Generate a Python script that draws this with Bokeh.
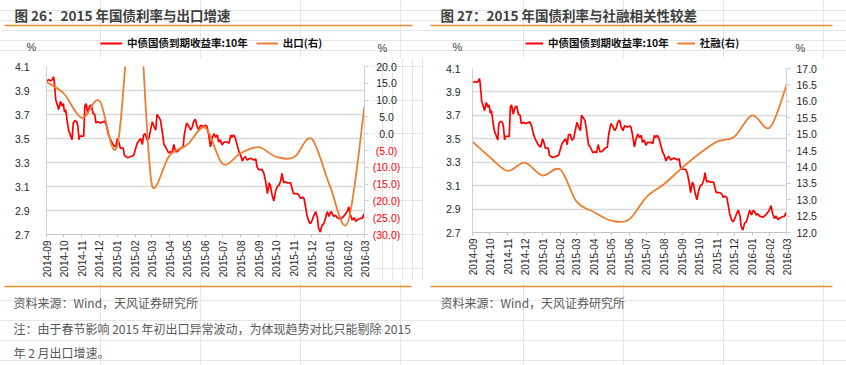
import math
import pandas as pd
from bokeh.plotting import figure
from bokeh.layouts import row, column
from bokeh.models import (Range1d, LinearAxis, FixedTicker, DatetimeTickFormatter,
                          NumeralTickFormatter, CustomJSTickFormatter,
                          ColumnDataSource, Legend, LegendItem)
from bokeh.embed import file_html
from bokeh.resources import INLINE
from bokeh.core.properties import value

# ---------------- data ----------------
month_labels = ["2014-09", "2014-10", "2014-11", "2014-12", "2015-01", "2015-02",
                "2015-03", "2015-04", "2015-05", "2015-06", "2015-07", "2015-08",
                "2015-09", "2015-10", "2015-11", "2015-12", "2016-01", "2016-02",
                "2016-03"]

# 中债国债到期收益率:10年 (%), days counted from 2014-09-01
yield_days = [0, 4, 7, 10, 12, 13, 15, 16, 18, 21, 24, 27, 29, 31, 33, 36, 38, 41, 44, 46,
              49, 52, 54, 56, 57, 61, 64, 66, 68, 71, 74, 77, 80, 83, 85, 88, 93, 98, 100, 103,
              106, 110, 115, 119, 122, 124, 127, 132, 134, 139, 145, 150, 156, 162, 165, 167, 170, 173, 176, 179,
              182, 185, 188, 190, 193, 196, 199, 202, 205, 208, 210, 213, 216, 219, 222, 225, 231, 235, 237, 241,
              245, 248, 251, 253, 256, 259, 262, 265, 270, 274, 276, 279, 282, 285, 288, 291, 294, 296, 299, 302,
              305, 311, 314, 317, 319, 322, 325, 328, 331, 334, 337, 339, 342, 345, 351, 357, 360, 362, 365, 368,
              371, 374, 377, 380, 383, 385, 388, 391, 394, 397, 400, 403, 405, 408, 411, 414, 420, 423, 425, 431,
              434, 437, 440, 443, 446, 448, 451, 454, 457, 460, 463, 466, 468, 471, 474, 477, 480, 483, 486, 489,
              491, 494, 497, 500, 506, 511, 517, 520, 523, 526, 529, 532, 534, 540, 543, 546, 547]
yield_vals = [3.98, 3.99, 3.98, 3.99, 4.015, 3.99, 3.88, 3.82, 3.79, 3.74, 3.81, 3.77, 3.79, 3.72, 3.74, 3.63, 3.57, 3.53, 3.49, 3.63,
              3.65, 3.64, 3.60, 3.49, 3.52, 3.52, 3.52, 3.77, 3.79, 3.71, 3.77, 3.78, 3.71, 3.70, 3.63, 3.64, 3.63, 3.64, 3.645, 3.61,
              3.54, 3.49, 3.445, 3.43, 3.50, 3.475, 3.42, 3.42, 3.36, 3.34, 3.35, 3.36, 3.46, 3.50, 3.45, 3.53, 3.54, 3.49, 3.50, 3.57,
              3.64, 3.60, 3.57, 3.70, 3.68, 3.655, 3.56, 3.45, 3.43, 3.40, 3.38, 3.39, 3.38, 3.45, 3.39, 3.39, 3.42, 3.43, 3.53, 3.63,
              3.60, 3.57, 3.60, 3.64, 3.66, 3.60, 3.57, 3.61, 3.60, 3.61, 3.60, 3.53, 3.43, 3.50, 3.54, 3.51, 3.53, 3.47, 3.49, 3.445,
              3.47, 3.47, 3.46, 3.53, 3.51, 3.53, 3.50, 3.445, 3.39, 3.36, 3.31, 3.335, 3.35, 3.32, 3.335, 3.32, 3.33, 3.265, 3.24, 3.24,
              3.24, 3.21, 3.14, 3.04, 3.13, 3.11, 3.03, 2.98, 3.06, 3.10, 3.11, 3.15, 3.21, 3.13, 3.14, 3.13, 3.13, 3.07, 3.04, 3.04,
              3.03, 3.00, 3.01, 3.00, 2.92, 2.86, 2.81, 2.79, 2.82, 2.86, 2.89, 2.84, 2.75, 2.72, 2.78, 2.79, 2.84, 2.89, 2.85, 2.89,
              2.88, 2.85, 2.86, 2.84, 2.83, 2.85, 2.89, 2.93, 2.86, 2.82, 2.84, 2.81, 2.82, 2.835, 2.835, 2.87, 2.84]

# 出口 (%, right axis of chart 26), one value per month in month_labels
export_vals = [15.4, 11.9, 4.7, 9.8, -3.5, 48.3, -15.0, -6.4, -3.3, 1.8, -9.0, -5.8,
               -4.0, -6.9, -7.0, -1.5, -15.3, -26.5, 8.3]
# 社融 (%, right axis of chart 27)
tsf_vals = [14.77, 14.30, 13.88, 14.13, 13.74, 13.92, 12.95, 12.62, 12.36, 12.40, 13.08, 13.48,
            13.97, 14.40, 14.77, 14.92, 15.57, 15.20, 16.49]

left_ticks = [2.7, 2.9, 3.1, 3.3, 3.5, 3.7, 3.9, 4.1]
export_ticks = [-30, -25, -20, -15, -10, -5, 0, 5, 10, 15, 20]
tsf_ticks = [12.0, 12.5, 13.0, 13.5, 14.0, 14.5, 15.0, 15.5, 16.0, 16.5, 17.0]

assert len(yield_days) == len(yield_vals)

# ---------------- helpers ----------------
START = pd.Timestamp("2014-09-01")
EPOCH = pd.Timestamp("1970-01-01")
DAY_MS = 86400000.0
NAN = float("nan")


def to_ms(ts):
    return (ts - EPOCH) / pd.Timedelta(milliseconds=1)


start_ms = to_ms(START)
month_ts = pd.to_datetime([m + "-01" for m in month_labels])
month_ms = [to_ms(t) for t in month_ts]
month_days = [(t - START).days for t in month_ts]
end_ms = month_ms[-1]
yield_x = [start_ms + d * DAY_MS for d in yield_days]

CJK = "Noto Sans CJK SC"
LAT = "Liberation Sans"
RED = "#FF0000"
ORANGE = "#ED7D31"
RULE = "#EC8A33"
TICKC = "#262626"


def smooth_segments(days, vals, px_day, px_unit):
    """Excel-style smoothed line: cubic Bezier control points from the data."""
    P = [(d * px_day, v * px_unit) for d, v in zip(days, vals)]
    n = len(P)
    out = {k: [] for k in ("x0", "y0", "x1", "y1", "cx0", "cy0", "cx1", "cy1")}

    def dist(a, b):
        return math.hypot(a[0] - b[0], a[1] - b[1])

    for i in range(n - 1):
        p0 = P[i - 1] if i > 0 else P[i]
        p1, p2 = P[i], P[i + 1]
        p3 = P[i + 2] if i + 2 < n else P[i + 1]
        d12, d02, d13 = dist(p1, p2), dist(p0, p2), dist(p1, p3)
        f = 1 / 6 if d02 / 6 < d12 / 2 else d12 / (2 * d02)
        g = 1 / 6 if d13 / 6 < d12 / 2 else d12 / (2 * d13)
        c1 = (p1[0] + (p2[0] - p0[0]) * f, p1[1] + (p2[1] - p0[1]) * f)
        c2 = (p2[0] - (p3[0] - p1[0]) * g, p2[1] - (p3[1] - p1[1]) * g)
        for key, pt in (("0", p1), ("1", p2)):
            out["x" + key].append(start_ms + pt[0] / px_day * DAY_MS)
            out["y" + key].append(pt[1] / px_unit)
        out["cx0"].append(start_ms + c1[0] / px_day * DAY_MS)
        out["cy0"].append(c1[1] / px_unit)
        out["cx1"].append(start_ms + c2[0] / px_day * DAY_MS)
        out["cy1"].append(c2[1] / px_unit)
    return out


def plain_fig(w, h, xr, yr):
    return figure(width=w, height=h, x_range=xr, y_range=yr,
                  x_axis_location=None, y_axis_location=None, title=None,
                  min_border=0, min_border_left=0, min_border_right=0,
                  min_border_top=0, min_border_bottom=0,
                  output_backend="svg", toolbar_location=None,
                  background_fill_color="white", border_fill_color="white",
                  outline_line_color=None)


def canvas_fig(w, h):
    """A plain figure whose frame is the whole canvas (pixel-like coordinates, y down)."""
    return plain_fig(w, h, Range1d(0, w), Range1d(h, 0))


def put_text(f, x, y, text, size, color, bold=False, font=CJK, align="left"):
    f.text(x=[x], y=[y], text=[text], text_font=value(font), text_font_size=value(size),
           text_color=color, text_font_style="bold" if bold else "normal",
           text_baseline="middle", text_align=align)


def header(title, title_x, rule_x, pct_l, pct_r, leg_vx, glyph_w, r_label):
    f = canvas_fig(423, 58)
    put_text(f, title_x, 14, title, "13.5px", "#404040", bold=True)
    f.segment(x0=[rule_x[0]], y0=[25], x1=[rule_x[1]], y1=[25], line_color=RULE, line_width=1.5)
    put_text(f, pct_l, 46, "%", "11px", "#404040", font=LAT)
    put_text(f, pct_r, 47.5, "%", "11px", "#404040", font=LAT)
    # legend swatches (no visible data of their own)
    r1 = f.line(x=[NAN], y=[NAN], line_color=RED, line_width=2)
    r2 = f.line(x=[NAN], y=[NAN], line_color=ORANGE, line_width=2)
    legend = Legend(items=[LegendItem(label="中债国债到期收益率:10年", renderers=[r1]),
                           LegendItem(label=r_label, renderers=[r2])],
                    orientation="horizontal", location=(leg_vx, 8),
                    padding=0, margin=0, spacing=8, label_standoff=5,
                    glyph_width=glyph_w, glyph_height=12, label_height=12,
                    label_text_font=CJK, label_text_font_size="10.5px",
                    label_text_font_style="bold", label_text_color="#111111",
                    border_line_alpha=0, background_fill_alpha=0)
    f.add_layout(legend, "center")
    return f


def footer(text_x, rule_x, notes):
    f = canvas_fig(423, 85)
    f.segment(x0=[rule_x[0]], y0=[6], x1=[rule_x[1]], y1=[6], line_color=RULE, line_width=1.5)
    for ny, nt in notes:
        put_text(f, text_x, ny, nt, "12px", "#595959")
    return f


CH_H = 222


def chart(W, bl, br, bt, bb, left_standoff, r_range, r_ticks, r_formatter, r_standoff, r_vals):
    fw = W - bl - br
    fh = CH_H - bt - bb
    p = figure(width=W, height=CH_H, x_axis_type="datetime", title=None,
               x_range=Range1d(start_ms, end_ms), y_range=Range1d(2.7, 4.1),
               output_backend="svg", toolbar_location=None,
               min_border_left=bl, min_border_right=br, min_border_top=bt,
               min_border_bottom=bb, background_fill_color="white",
               border_fill_color="white", outline_line_color=None)
    p.extra_y_ranges = {"r": Range1d(*r_range)}

    xa = p.xaxis[0]
    xa.ticker = FixedTicker(ticks=month_ms)
    xa.formatter = DatetimeTickFormatter(days="%Y-%m", months="%Y-%m", years="%Y-%m",
                                         hours="%Y-%m", hourmin="%Y-%m")
    xa.axis_line_color = "#c4c4c4"
    xa.major_tick_line_color = "#c4c4c4"
    xa.major_tick_out = 3
    xa.major_tick_in = 0
    xa.minor_tick_out = 0
    xa.minor_tick_in = 0
    xa.major_label_orientation = math.pi / 2
    xa.major_label_standoff = 3
    xa.major_label_text_font = LAT
    xa.major_label_text_font_size = "10px"
    xa.major_label_text_color = TICKC

    ya = p.yaxis[0]
    ya.ticker = FixedTicker(ticks=left_ticks)
    ya.formatter = NumeralTickFormatter(format="0.0")
    ya.axis_line_color = "#d0d0d0"
    ya.major_tick_out = 0
    ya.major_tick_in = 0
    ya.minor_tick_out = 0
    ya.minor_tick_in = 0
    ya.major_label_standoff = left_standoff
    ya.major_label_text_font = LAT
    ya.major_label_text_font_size = "10.5px"
    ya.major_label_text_color = TICKC

    ra = LinearAxis(y_range_name="r", ticker=FixedTicker(ticks=r_ticks), formatter=r_formatter)
    ra.axis_line_color = "#d0d0d0"
    ra.major_tick_line_color = "#d0d0d0"
    ra.major_tick_out = 4
    ra.major_tick_in = 0
    ra.minor_tick_out = 0
    ra.minor_tick_in = 0
    ra.major_label_standoff = r_standoff
    ra.major_label_text_font = LAT
    ra.major_label_text_font_size = "10.5px"
    ra.major_label_text_color = TICKC
    p.add_layout(ra, "right")

    p.xgrid.visible = False
    p.ygrid.ticker = FixedTicker(ticks=left_ticks)
    p.ygrid.grid_line_color = "#d9d9d9"
    p.ygrid.grid_line_width = 1.3

    p.line(x=yield_x, y=yield_vals, line_color=RED, line_width=1.7)
    seg = smooth_segments(month_days, r_vals, fw / 547.0,
                          fh / float(r_range[1] - r_range[0]))
    p.bezier(source=ColumnDataSource(seg), x0="x0", y0="y0", x1="x1", y1="y1",
             cx0="cx0", cy0="cy0", cx1="cx1", cy1="cy1",
             line_color=ORANGE, line_width=1.8, y_range_name="r")
    return p


# ---------- chart 26 ----------
C1_BT, C1_BB = 8, 46
h1 = header("图 26：2015 年国债利率与出口增速", 14, (4, 412), 26, 377, 100, 22, "出口(右)")
c1 = chart(372, 46, 8, C1_BT, C1_BB, 17, (-30, 20), export_ticks,
           CustomJSTickFormatter(code="return '';"), 0, export_vals)
# right-axis tick labels of chart 26 (negatives in red, in brackets), same vertical scale
upp = 50.0 / (CH_H - C1_BT - C1_BB)
lab = plain_fig(51, CH_H, Range1d(0, 51), Range1d(-30 - C1_BB * upp, 20 + C1_BT * upp))
lab_src = ColumnDataSource(dict(
    x=[14] * len(export_ticks), y=export_ticks,
    t=[("%.1f" % t) if t >= 0 else ("(%.1f)" % abs(t)) for t in export_ticks],
    c=[TICKC if t >= 0 else RED for t in export_ticks]))
lab.text(x="x", y="y", text="t", text_color="c", source=lab_src, text_align="center",
         text_baseline="middle", text_font=value(LAT), text_font_size=value("10.5px"))
f1 = footer(13, (4, 411), [(21.5, "资料来源：Wind，天风证券研究所"),
                           (48, "注：由于春节影响 2015 年初出口异常波动，为体现趋势对比只能剔除 2015"),
                           (72, "年 2 月出口增速。")])
col1 = column(h1, row(c1, column(lab, spacing=0), spacing=0), f1, spacing=0)

# ---------- chart 27 ----------
h2 = header("图 27：2015 年国债利率与社融相关性较差", 17, (7, 409), 29, 372, 102, 18, "社融(右)")
c2 = chart(423, 49, 60, 10, 48, 12, (12, 17), tsf_ticks,
           NumeralTickFormatter(format="0.0"), 6, tsf_vals)
f2 = footer(17, (7, 409), [(21.5, "资料来源：Wind，天风证券研究所")])
col2 = column(h2, row(c2, spacing=0), f2, spacing=0)

layout = row(col1, col2, spacing=0)
open("out.html", "w").write(file_html(layout, INLINE))
